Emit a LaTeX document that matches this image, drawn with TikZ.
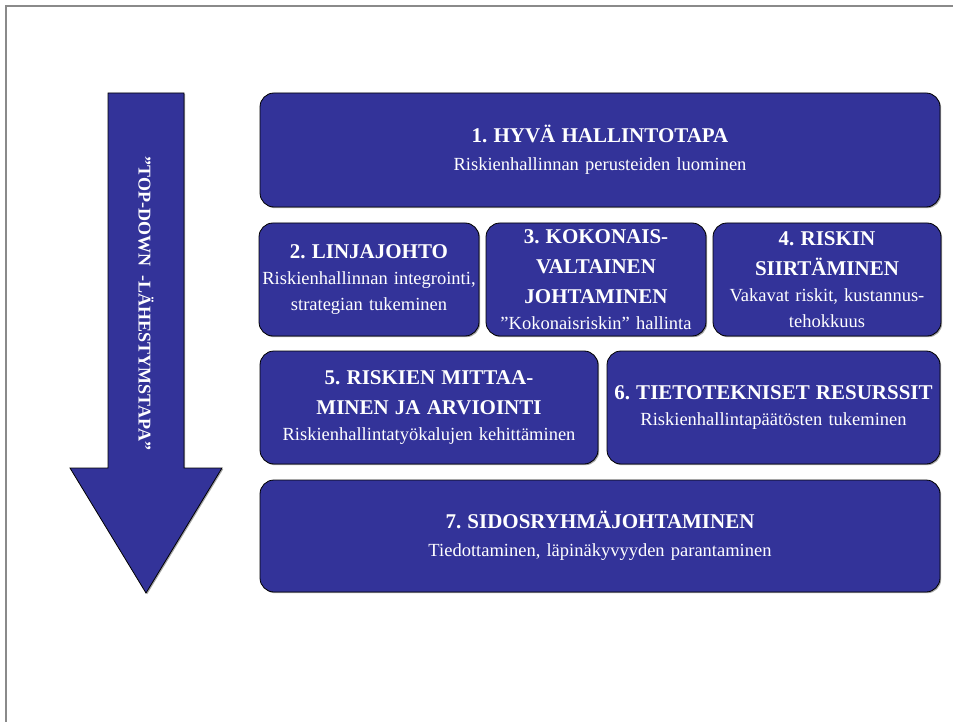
\documentclass[tikz,border=0pt]{standalone}
\usepackage{fontspec}
\setmainfont{Liberation Serif}
\usetikzlibrary{shadows}
\frenchspacing
\definecolor{boxblue}{HTML}{333399}
\definecolor{framegray}{HTML}{8A8A8A}
\newcommand\ttlfnt{\fontsize{21}{30}\selectfont\bfseries}
\newcommand\subfnt{\fontsize{18.5}{26}\selectfont}
\tikzset{
  panel/.style={draw=black, line width=0.8pt, fill=boxblue, rounded corners=14pt,
    inner sep=0pt, text=white, align=center, font=\subfnt,
    drop shadow={shadow xshift=1.2pt, shadow yshift=-1.2pt, fill=black, opacity=0.35}},
  arrowshape/.style={draw=black, line width=0.8pt, fill=boxblue,
    drop shadow={shadow xshift=1.2pt, shadow yshift=-1.2pt, fill=black, opacity=0.35}},
  framerule/.style={draw=framegray, line width=1.2pt}
}
\begin{document}
\begin{tikzpicture}[x=1pt, y=-1pt]
  \useasboundingbox[fill=white] (0,0) rectangle (953,722);
  % page frame edges
  \coordinate (fc) at (6,6);
  \coordinate (fr) at (953,6);
  \coordinate (fb) at (6,722);
  \draw[framerule] (fb) -- (fc) -- (fr);

  % top-down arrow
  \draw[arrowshape] (108,93) -- (184,93) -- (184,468) -- (222,468) -- (146,593)
    -- (70,468) -- (108,468) -- cycle;
  \node[rotate=-90, text=white, inner sep=0pt,
        font=\fontsize{18}{20}\selectfont\bfseries] (approach) at (146,303.5)
    {”TOP-DOWN\ \ -LÄHESTYMSTAPA”};

  % row 1
  \node[panel, minimum width=680pt, minimum height=114pt, text width=680pt] (b1) at (600,150)
    {{\ttlfnt 1. HYVÄ HALLINTOTAPA\par}\vspace{2pt}%
     {\subfnt Riskienhallinnan perusteiden luominen\par}};

  % row 2
  \node[panel, minimum width=220pt, minimum height=113pt, text width=220pt] (b2) at (369,279.5)
    {{\ttlfnt 2. LINJAJOHTO\par}%
     {\subfnt Riskienhallinnan integrointi,\\ strategian tukeminen\par}};
  \node[panel, minimum width=220pt, minimum height=113pt, text width=220pt] (b3) at (596,279.5)
    {{\ttlfnt 3. KOKONAIS-\\ VALTAINEN\\ JOHTAMINEN\par}%
     {\subfnt ”Kokonaisriskin” hallinta\par}};
  \node[panel, minimum width=228pt, minimum height=113pt, text width=228pt] (b4) at (827,279.5)
    {{\ttlfnt 4. RISKIN\\ SIIRTÄMINEN\par}%
     {\subfnt Vakavat riskit, kustannus-\\ tehokkuus\par}};

  % row 3
  \node[panel, minimum width=338pt, minimum height=113pt, text width=338pt] (b5) at (429,407.5)
    {{\ttlfnt 5. RISKIEN MITTAA-\\ MINEN JA ARVIOINTI\par}%
     {\subfnt Riskienhallintatyökalujen kehittäminen\par}};
  \node[panel, minimum width=333pt, minimum height=113pt, text width=333pt] (b6) at (773.5,407.5)
    {{\ttlfnt 6. TIETOTEKNISET RESURSSIT\par}%
     {\subfnt Riskienhallintapäätösten tukeminen\par}};

  % row 4
  \node[panel, minimum width=680pt, minimum height=112pt, text width=680pt] (b7) at (600,536)
    {{\ttlfnt 7. SIDOSRYHMÄJOHTAMINEN\par}\vspace{2pt}%
     {\subfnt Tiedottaminen, läpinäkyvyyden parantaminen\par}};
\end{tikzpicture}
\end{document}
